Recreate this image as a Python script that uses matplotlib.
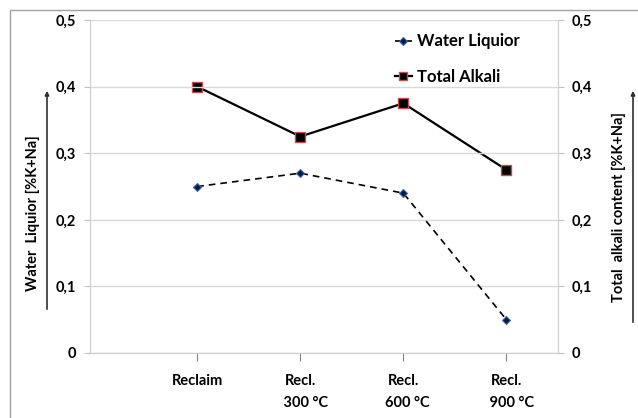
import numpy as np
import matplotlib.pyplot as plt
from matplotlib.ticker import FuncFormatter
from matplotlib.patches import Rectangle

categories = ['Reclaim', 'Recl.\n   300 °C', 'Recl.\n  600 °C', 'Recl.\n   900 °C']
water_liquior = [0.25, 0.27, 0.24, 0.05]
total_alkali = [0.40, 0.325, 0.375, 0.275]
yticks = [0, 0.1, 0.2, 0.3, 0.4, 0.5]

plt.rcParams['font.family'] = ['Lato', 'DejaVu Sans']
plt.rcParams['font.weight'] = 'bold'

fig = plt.figure(figsize=(6.38, 4.18), dpi=100)
ax = fig.add_axes([90/638, 1 - 353/418, 468/638, 333/418])
ax2 = ax.twinx()

x = np.arange(len(categories))
l1, = ax.plot(x, water_liquior, color='black', ls=(0, (4, 3)), lw=1.2,
              marker='D', ms=4.5, mfc='#0a1a3a', mec='#3a6ab0', mew=0.8,
              label='Water Liquior')
l2, = ax2.plot(x, total_alkali, color='black', lw=1.6,
               marker='s', ms=6.5, mfc='black', mec='#c0504d', mew=1.0,
               label='Total Alkali')

fmt = FuncFormatter(lambda v, p: '0' if v == 0 else f'{v:.1f}'.replace('.', ','))
for a in (ax, ax2):
    a.set_ylim(0, 0.5)
    a.set_yticks(yticks)
    a.yaxis.set_major_formatter(fmt)
    a.set_xlim(-1.04, 3.5)
    for s in a.spines.values():
        s.set_color('#d0d0d0')
    a.spines['top'].set_visible(False)
    a.tick_params(axis='y', length=4, color='#c0c0c0', labelsize=10.5, pad=6)

ax.set_zorder(ax2.get_zorder() + 1)
ax.patch.set_visible(False)
ax.yaxis.grid(True, color='#d9d9d9', lw=1)
ax.set_axisbelow(True)
ax.set_xticks(x)
ax.set_xticklabels(categories, fontsize=10.5, linespacing=1.7, ha='center')
ax.tick_params(axis='x', length=6, color='#808080', pad=9)

# axis titles with arrows
fig.text(33/638, 1 - 213/418, 'Water  Liquior [%K+Na]', rotation=90,
         ha='center', va='center', fontsize=10.5)
fig.text(619/638, 1 - 207/418, 'Total  alkali content [%K+Na]', rotation=90,
         ha='center', va='center', fontsize=10.5)
arrow = dict(arrowstyle='-|>', color='#303030', lw=1.2, mutation_scale=6)
ax.annotate('', xy=(47/638, 1 - 88/418), xytext=(47/638, 1 - 312/418),
            xycoords='figure fraction', textcoords='figure fraction',
            arrowprops=arrow, annotation_clip=False)
ax.annotate('', xy=(633/638, 1 - 88/418), xytext=(633/638, 1 - 325/418),
            xycoords='figure fraction', textcoords='figure fraction',
            arrowprops=arrow, annotation_clip=False)

leg = ax.legend(handles=[l1, l2], loc='upper left', bbox_to_anchor=(0.62, 1.005),
                frameon=False, handlelength=1.0, handletextpad=0.3,
                labelspacing=1.15, fontsize=12, markerscale=0.85)

fig.patches.append(Rectangle((10/638, -0.1), 1.1, 1 - 10/418 + 0.1,
                             transform=fig.transFigure, fill=False,
                             ec='#a0a0a0', lw=1.0))

fig.savefig('out.png', dpi=100)
